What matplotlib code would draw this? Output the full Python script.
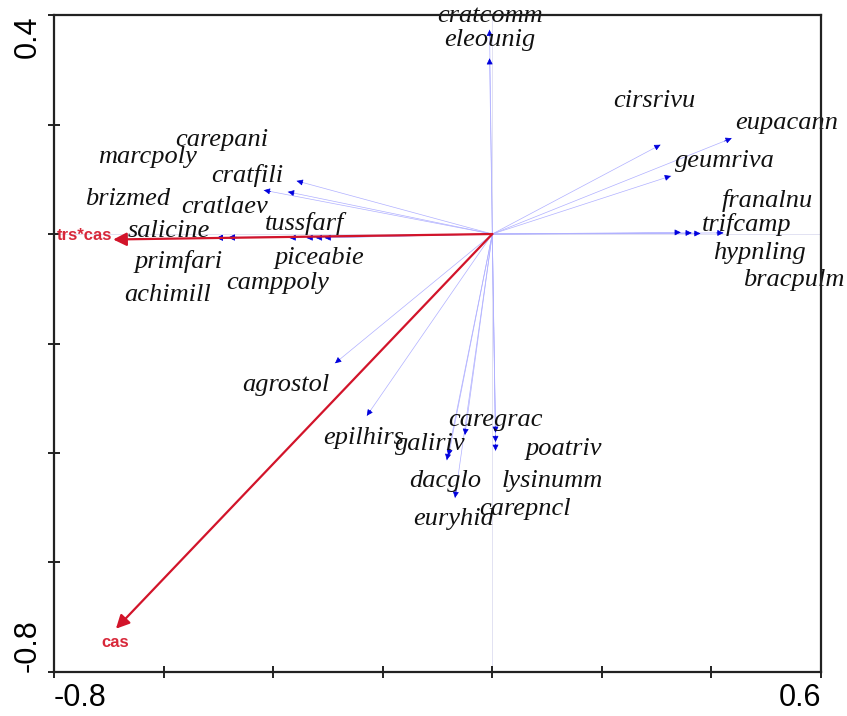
import matplotlib
matplotlib.use('Agg')
import matplotlib.pyplot as plt

# species scores (arrow tips)
species = ['cratcomm', 'eleounig', 'cirsrivu', 'eupacann', 'geumriva', 'franalnu',
           'trifcamp', 'hypnling', 'bracpulm', 'carepani', 'marcpoly', 'cratfili',
           'brizmed', 'cratlaev', 'tussfarf', 'salicine', 'primfari', 'piceabie',
           'camppoly', 'achimill', 'agrostol', 'epilhirs', 'galiriv', 'caregrac',
           'poatriv', 'dacglo', 'lysinumm', 'carepncl', 'euryhid']
sp_x = [-0.005, -0.005, 0.307, 0.437, 0.326, 0.344,
        0.364, 0.380, 0.422, -0.373, -0.417, -0.357,
        -0.481, -0.370, -0.339, -0.503, -0.481, -0.322,
        -0.306, -0.503, -0.287, -0.229, -0.083, -0.050,
        0.006, -0.080, 0.006, 0.006, -0.068]
sp_y = [0.373, 0.321, 0.163, 0.175, 0.106, 0.003,
        0.002, 0.001, 0.002, 0.077, 0.080, 0.097,
        -0.006, -0.007, -0.007, -0.007, -0.007, -0.007,
        -0.007, -0.007, -0.236, -0.332, -0.413, -0.367,
        -0.363, -0.405, -0.380, -0.396, -0.482]

# environmental variables
env_names = ['trs*cas', 'cas']
env_x = [-0.692, -0.687]
env_y = [-0.010, -0.721]

# label placement (data coords), as arranged in the original plot
label_x = [-0.005, -0.005, 0.295, 0.538, 0.424, 0.502,
           0.464, 0.487, 0.551, -0.493, -0.630, -0.448,
           -0.665, -0.488, -0.342, -0.590, -0.572, -0.315,
           -0.391, -0.592, -0.377, -0.235, -0.114, 0.005,
           0.131, -0.085, 0.110, 0.059, -0.070]
label_y = [0.398, 0.354, 0.243, 0.203, 0.133, 0.062,
           0.018, -0.035, -0.084, 0.172, 0.141, 0.106,
           0.064, 0.049, 0.020, 0.005, -0.051, -0.044,
           -0.089, -0.112, -0.276, -0.373, -0.384, -0.340,
           -0.393, -0.451, -0.451, -0.502, -0.520]
env_label_x = [-0.745, -0.688]
env_label_y = [-0.002, -0.746]

plt.rcParams['axes.unicode_minus'] = False

fig = plt.figure(figsize=(8.47, 7.16), dpi=100)
ax = fig.add_axes([0.0638, 0.0615, 0.9055, 0.9175])
ax.set_xlim(-0.8, 0.6)
ax.set_ylim(-0.8, 0.4)

# axis cross lines through origin
ax.axhline(0, color='#e2e2f2', lw=0.7, zorder=1)
ax.axvline(0, color='#e2e2f2', lw=0.7, zorder=1)

# species arrows
for x, y in zip(sp_x, sp_y):
    ax.plot([0, x], [0, y], color='#b0b0ff', lw=0.5, zorder=2)
    ax.annotate('', xy=(x, y), xytext=(x * 0.97, y * 0.97),
                arrowprops=dict(arrowstyle='-|>', color='#0000dd', lw=0.5,
                                mutation_scale=9, shrinkA=0, shrinkB=0),
                zorder=3)

for name, lx, ly in zip(species, label_x, label_y):
    ax.text(lx, ly, name, family='Liberation Serif', style='italic',
            fontsize=19, ha='center', va='center', color='#111111', zorder=4)

# environmental arrows
for name, x, y, lx, ly in zip(env_names, env_x, env_y, env_label_x, env_label_y):
    ax.annotate('', xy=(x, y), xytext=(0, 0),
                arrowprops=dict(arrowstyle='-|>', color='#d2142a', lw=1.6,
                                mutation_scale=20, shrinkA=0, shrinkB=0),
                zorder=5)
    ax.text(lx, ly, name, family='Liberation Sans', fontweight='bold',
            fontsize=12, color='#d8283a', ha='center', va='center', zorder=6)

# ticks: every 0.2, labels only at the ends
xt = [-0.8, -0.6, -0.4, -0.2, 0.0, 0.2, 0.4, 0.6]
yt = [-0.8, -0.6, -0.4, -0.2, 0.0, 0.2, 0.4]
ax.set_xticks(xt)
ax.set_xticklabels(['-0.8', '', '', '', '', '', '', '0.6'],
                   family='Liberation Sans', fontsize=22)
ax.set_yticks(yt)
ax.set_yticklabels(['-0.8', '', '', '', '', '', '0.4'],
                   family='Liberation Sans', fontsize=22, rotation=90)
xl = ax.get_xticklabels()
xl[0].set_ha('left')
xl[-1].set_ha('right')
yl = ax.get_yticklabels()
yl[0].set_va('bottom')
yl[-1].set_va('top')
ax.tick_params(direction='inout', length=8, width=1.4, color='#222222')
ax.tick_params(axis='x', pad=4)
ax.tick_params(axis='y', pad=4)

for sp in ax.spines.values():
    sp.set_linewidth(1.6)
    sp.set_color('#222222')
    sp.set_zorder(10)

fig.savefig('out.png', dpi=100)
